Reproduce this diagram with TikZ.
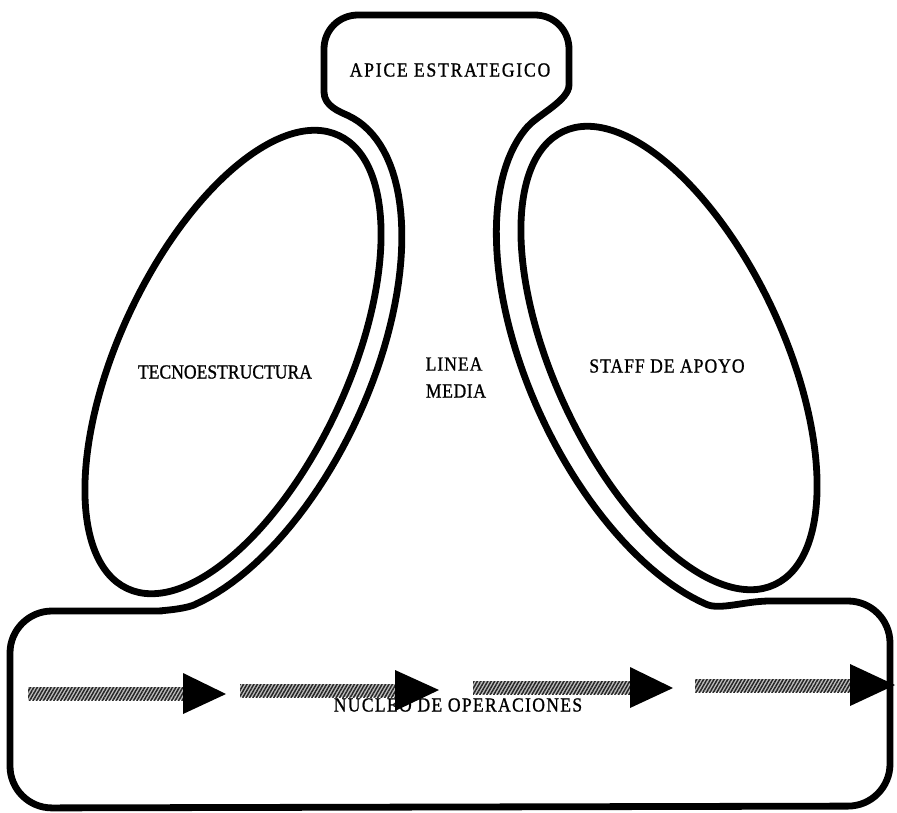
\documentclass[tikz,border=0pt]{standalone}
\usepackage{fontspec}
\setmainfont{Liberation Serif}
\newfontfamily\lblfamily[FakeStretch=0.88, FakeBold=1]{Liberation Serif}
\usepackage{tikz}
\usetikzlibrary{patterns.meta}

\newcommand{\lblfont}{\lblfamily\fontsize{20}{24}\selectfont}

\begin{document}
\begin{tikzpicture}[x=1pt, y=-1pt, line join=round,
		outline/.style={line width=6.8pt},
		shaft/.style={fill=gray!50, postaction={pattern color=black!85, pattern={Lines[angle=60,distance=3pt,line width=1.5pt]}}},
		head/.style={fill=black},
		lbl/.style={font=\lblfont, inner sep=0pt}]
		% 0. Page size of the scan (y runs downwards, 1pt = 1px)
		\useasboundingbox (0,0) rectangle (897,812);

		% 1. The two side ellipses
		% Left one (technostructure), tilted to the right
		\draw[outline, rotate around={65:(233,362)}] (233,362) ellipse [x radius=250, y radius=114.5];
		% Right one (support staff), tilted to the left
		\draw[outline, rotate around={-65:(669,358)}] (669,358) ellipse [x radius=250, y radius=114.5];

		% 2. Outer outline: apex, middle line and operating core
		% the middle line follows each ellipse at a fixed gap
		\draw[outline] (450,15) -- (535,15) .. controls (554,15) and (569,30) .. (569,49) -- (569,85)
			.. controls (569,100) and (538.6,114.7) .. (528.5,125.8)
			-- plot[domain=12:150, samples=60, variable=\t] ({669 - 276*cos(\t)*0.4226 - 140.5*sin(\t)*0.9063}, {358 - 276*cos(\t)*0.9063 + 140.5*sin(\t)*0.4226})
			.. controls (720,610.3) and (745,601) .. (770,601)
			[rounded corners=42] -- (890,601) -- (890,806) -- (10,808) -- (10,611) -- (120,611)
			[sharp corners] .. controls (150,611) and (181.7,610.5) .. (195.4,604.4)
			-- plot[domain=150:0, samples=60, variable=\t] ({233 + 272*cos(\t)*0.4226 + 136.5*sin(\t)*0.9063}, {362 - 272*cos(\t)*0.9063 + 136.5*sin(\t)*0.4226})
			.. controls (339.7,111.7) and (324,106) .. (324,92)
			-- (324,49) .. controls (324,30) and (339,15) .. (358,15) -- cycle;

		% 3. Labels
		\node[lbl, font=\lblfont\addfontfeature{LetterSpace=9}] (apex) at (450,70) {APICE ESTRATEGICO};
		\node[lbl] (tecno) at (225,372) {TECNOESTRUCTURA};
		\node[lbl, font=\lblfont\addfontfeature{LetterSpace=5}] (staff) at (667,366) {STAFF DE APOYO};
		\node[lbl, font=\lblfont\addfontfeature{LetterSpace=5}] (linea) at (454,364) {LINEA};
		\node[lbl, font=\lblfont\addfontfeature{LetterSpace=3}] (media) at (456,391) {MEDIA};
		\node[lbl, font=\lblfont\addfontfeature{LetterSpace=6.5}] (nucleo) at (458,705) {NUCLEO DE OPERACIONES};

		% 4. Flow arrows through the operating core
		\fill[shaft] (28,687) rectangle (185,700);
		\fill[head] (183,673) -- (226,694) -- (183,714) -- cycle;
		\fill[shaft] (240,684) rectangle (397,697);
		\fill[head] (395,670) -- (439,690) -- (395,711) -- cycle;
		\fill[shaft] (473,681) rectangle (632,694);
		\fill[head] (630,667) -- (673,688) -- (630,708) -- cycle;
		\fill[shaft] (695,679) rectangle (852,692);
		\fill[head] (850,664) -- (895,685) -- (850,706) -- cycle;
	\end{tikzpicture}
\end{document}
